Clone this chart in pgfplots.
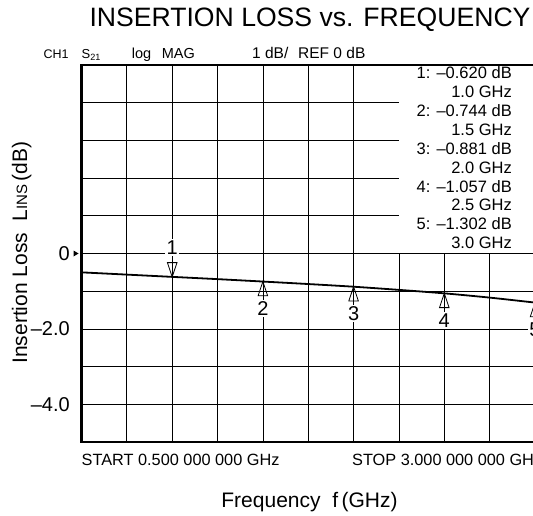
\documentclass[border=0pt]{standalone}
\usepackage{pgfplots}
\pgfplotsset{compat=1.18}
\usepackage{fontspec}
\setmainfont{Liberation Sans}
\newcommand{\fs}[1]{\fontsize{#1}{#1}\selectfont}
\begin{document}
\begin{tikzpicture}[x=1pt,y=1pt]
\useasboundingbox (0,0) rectangle (533,515);
\clip (0,0) rectangle (533,515);
\begin{axis}[
  at={(81.5pt,73pt)}, anchor=south west,
  width=453.5pt, height=377pt, scale only axis,
  xmin=0.5, xmax=3.0, ymin=-5, ymax=5,
  xtick={0.5,0.75,1.0,1.25,1.5,1.75,2.0,2.25,2.5,2.75,3.0},
  xticklabels={},
  ytick={-5,-4,-3,-2,-1,0,1,2,3,4,5},
  yticklabels={},
  extra y ticks={0,-2,-4},
  extra y tick labels={0,–2.0,–4.0},
  extra y tick style={grid=none},
  yticklabel style={font=\fs{20}, inner sep=0pt, xshift=-11.5pt},
  tick style={draw=none},
  grid=major,
  grid style={black, line width=0.8pt},
  axis line style={black, line width=2.2pt},
  clip=false,
]
% marker table background
\fill[white] ([xshift=0.5pt,yshift=0.5pt]axis cs:2.25,0) rectangle ([yshift=-1.2pt]axis cs:3.0,5);
% trace
\addplot[black, line width=1.8pt, smooth] coordinates {
  (0.50,-0.50) (0.75,-0.56) (1.00,-0.620) (1.25,-0.68) (1.50,-0.744)
  (1.75,-0.81) (2.00,-0.881) (2.25,-0.965) (2.50,-1.057) (2.75,-1.17) (3.00,-1.302)
};
% marker 1 (pointing down, above trace)
\addplot[only marks, mark=triangle, mark size=9.5pt,
  mark options={draw=black, fill=white, line width=0.8pt, rotate=180, xscale=0.58, yshift=-9.5pt}]
  coordinates {(1.0,-0.620)};
% markers 2-5 (pointing up, below trace)
\addplot[only marks, mark=triangle, mark size=9.5pt,
  mark options={draw=black, fill=white, line width=0.8pt, xscale=0.58, yshift=-9.5pt}]
  coordinates {(1.5,-0.744) (2.0,-0.881) (2.5,-1.057) (3.0,-1.302)};
\node[fill=white, inner sep=1.5pt, font=\fs{20}, yshift=29pt] at (axis cs:1.0,-0.620) {1};
\node[fill=white, inner sep=1.5pt, font=\fs{20}, yshift=-27pt] at (axis cs:1.5,-0.744) {2};
\node[fill=white, inner sep=1.5pt, font=\fs{20}, yshift=-27pt] at (axis cs:2.0,-0.881) {3};
\node[fill=white, inner sep=1.5pt, font=\fs{20}, yshift=-27pt] at (axis cs:2.5,-1.057) {4};
\node[fill=white, inner sep=1.5pt, font=\fs{20}, yshift=-27pt] at (axis cs:3.0,-1.302) {5};
\end{axis}
% pointer at reference level
\fill (73.5,264.5) -- (78.5,261.5) -- (73.5,258.5) -- cycle;
% title
\node[anchor=base, inner sep=0pt, font=\fs{26.6}] at (310,488.3) {INSERTION LOSS vs. FREQUENCY};
% header
\begin{scope}[every node/.style={anchor=base west, inner sep=0pt}]
\node[font=\fs{12.5}] at (43.3,456.7) {CH1};
\node[font=\fs{13}] at (81.5,456.7) {S\textsubscript{21}};
\node[font=\fs{14.5}] at (131.7,456.7) {log};
\node[font=\fs{14.5}] at (161.7,456.7) {MAG};
\node[font=\fs{15.5}] at (252,456.7) {1 dB/};
\node[font=\fs{15.5}] at (298,456.7) {REF 0 dB};
\end{scope}
% marker readout
\begin{scope}[every node/.style={anchor=base east, inner sep=0pt, font=\fs{16.5}}]
\node at (512,436.0) {1: –0.620 dB};
\node at (512,417.2) {1.0 GHz};
\node at (512,398.3) {2: –0.744 dB};
\node at (512,379.5) {1.5 GHz};
\node at (512,360.6) {3: –0.881 dB};
\node at (512,341.8) {2.0 GHz};
\node at (512,322.9) {4: –1.057 dB};
\node at (512,304.1) {2.5 GHz};
\node at (512,285.2) {5: –1.302 dB};
\node at (512,266.4) {3.0 GHz};
\end{scope}
% start / stop
\node[anchor=base west, inner sep=0pt, font=\fs{16.3}] at (81.5,49.5) {START 0.500 000 000 GHz};
\node[anchor=base west, inner sep=0pt, font=\fs{16.3}] at (352,49.5) {STOP 3.000 000 000 GHz};
% axis titles
\node[anchor=base, inner sep=0pt, font=\fs{21}] at (309.5,8) {Frequency\ \ f\,(GHz)};
\node[anchor=base, inner sep=0pt, font=\fs{21}, rotate=90] at (27,262.5) {Insertion Loss\ \ L{\fs{15}INS}\,(dB)};
\end{tikzpicture}
\end{document}
